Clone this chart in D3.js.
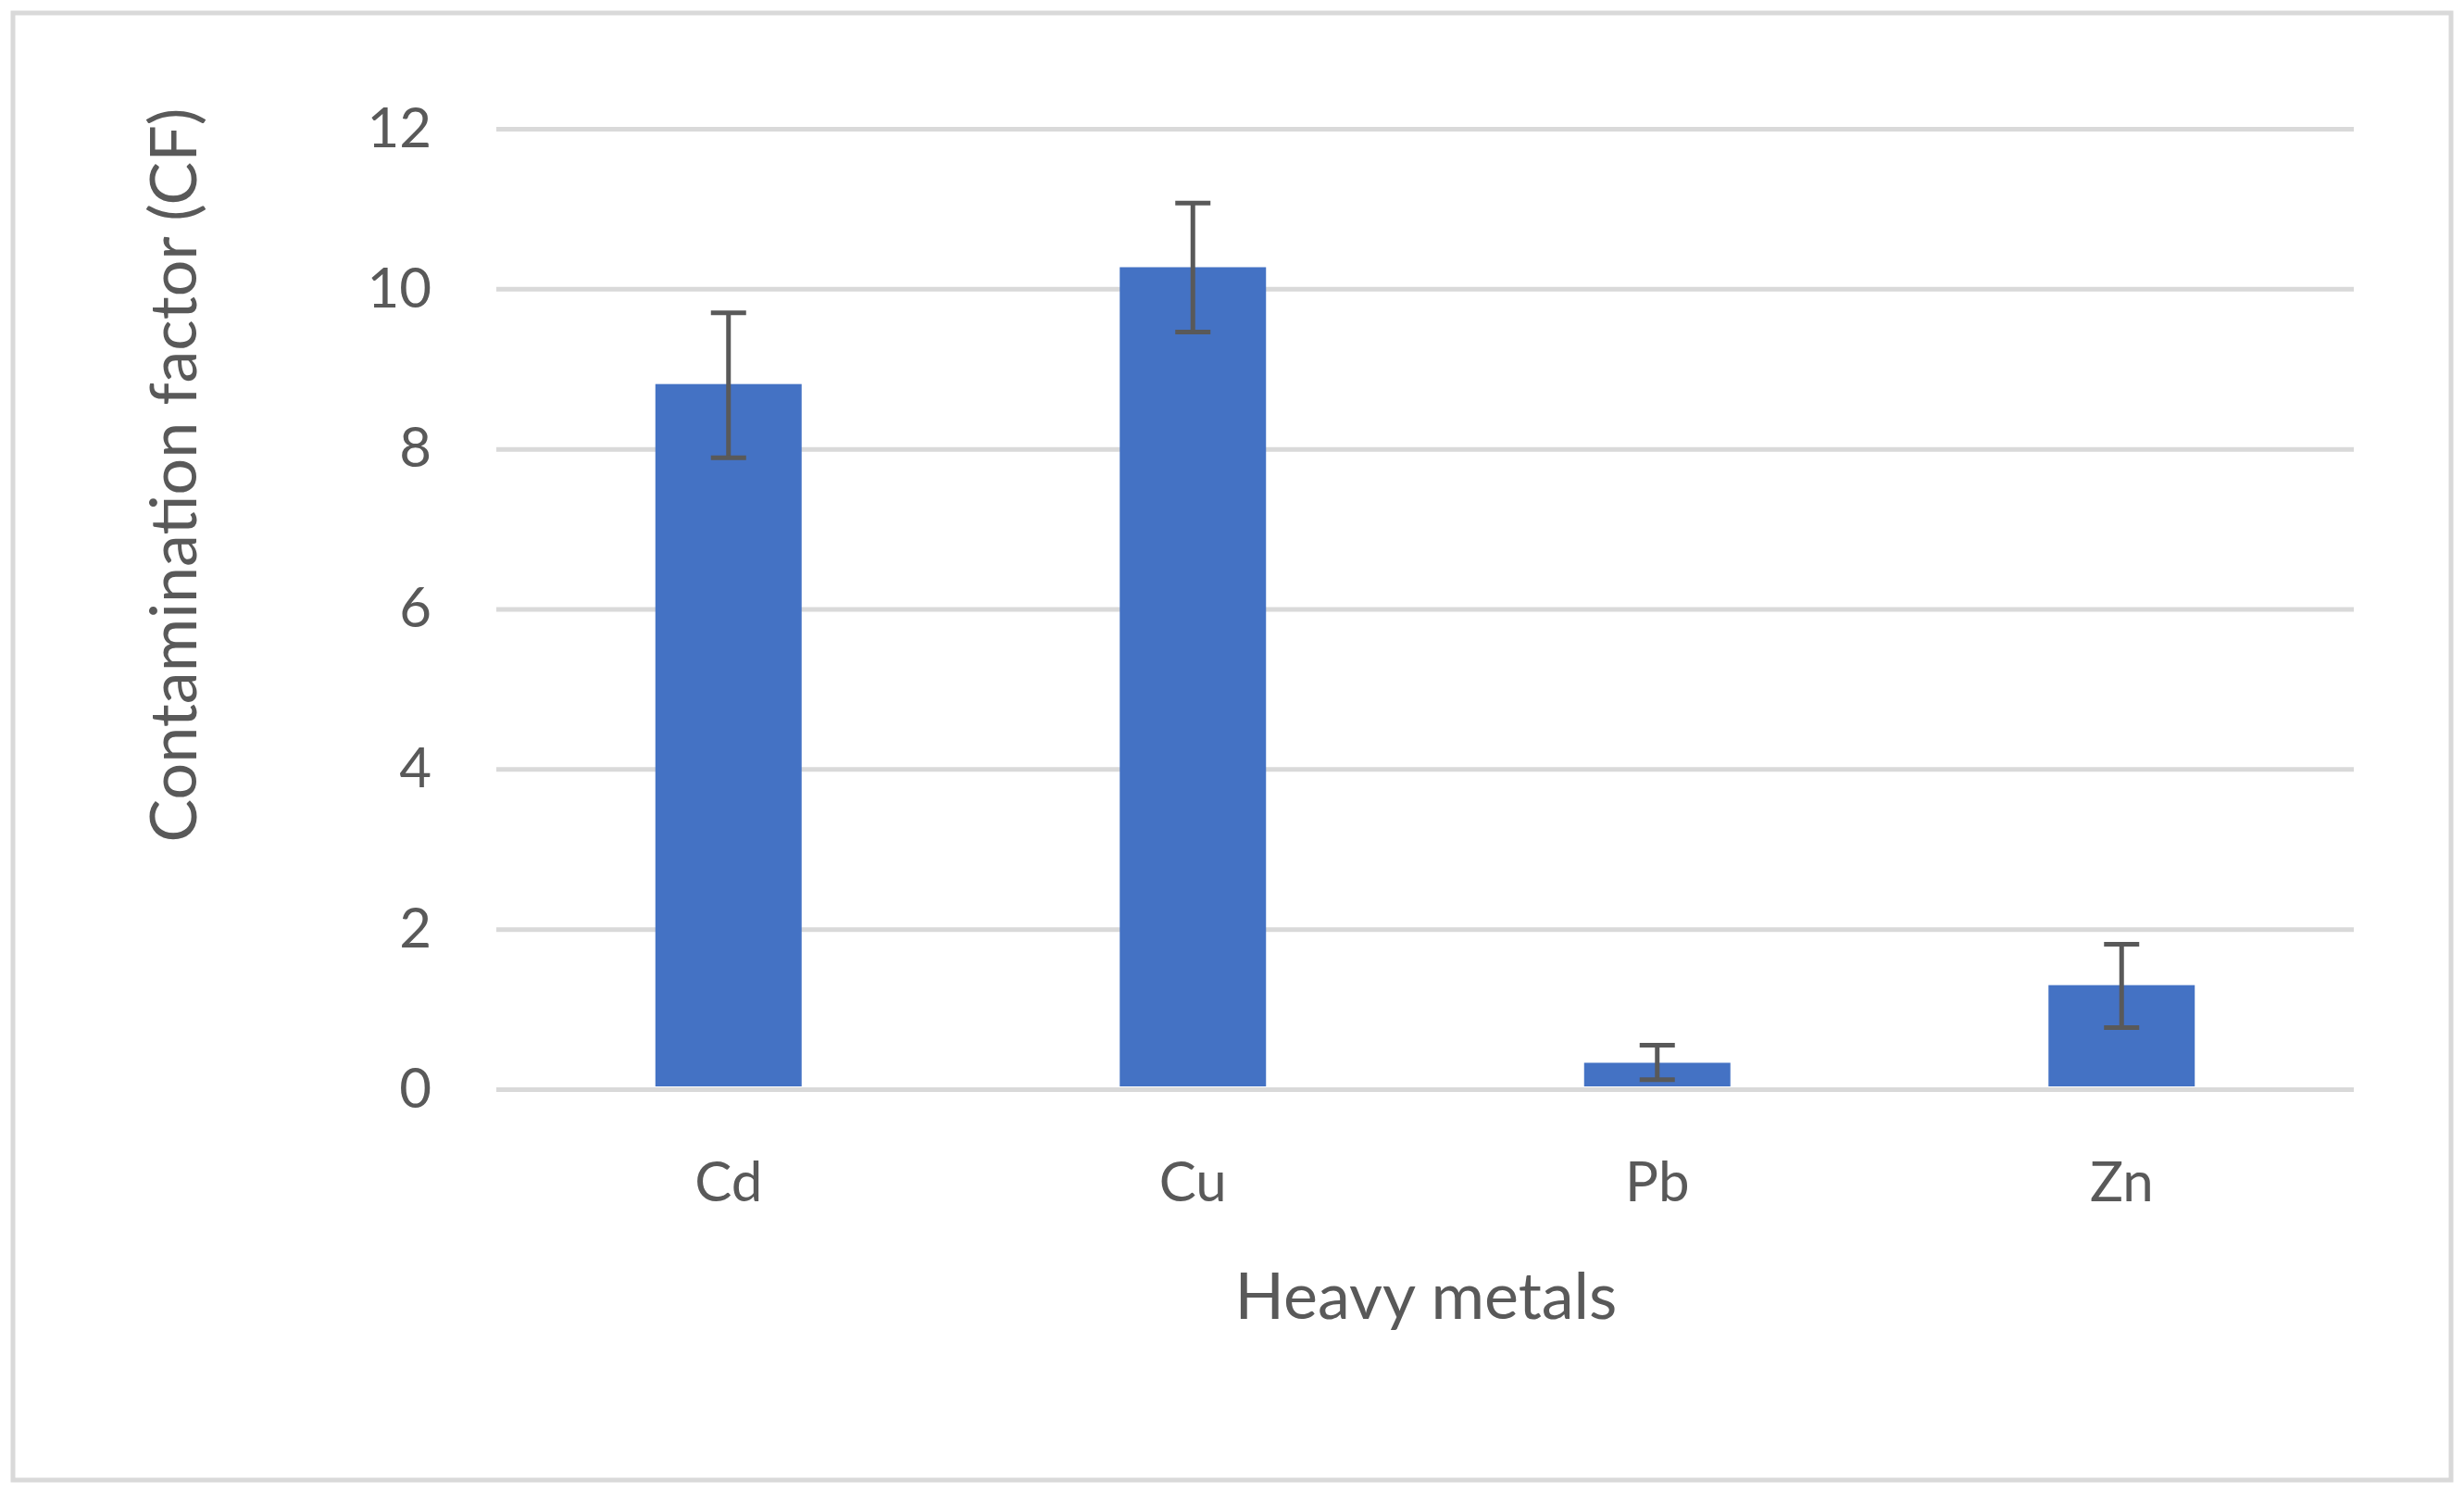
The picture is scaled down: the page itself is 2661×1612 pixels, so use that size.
<!DOCTYPE html>
<html><head><meta charset="utf-8">
<script src="https://cdn.jsdelivr.net/npm/d3@7"></script>
<style>body{margin:0;background:#fff}svg{display:block}</style>
</head><body>
<script>
const categories = ["Cd","Cu","Pb","Zn"];
const values = [8.81, 10.27, 0.33, 1.30];
const errLow = [7.89, 9.46, 0.12, 0.77];
const errHigh = [9.70, 11.07, 0.55, 1.81];
const yTicks = [0,2,4,6,8,10,12];

(function(){
const W=2661,H=1612;
const svg=d3.select("body").append("svg").attr("width",W).attr("height",H);
const font="Lato, 'Open Sans', sans-serif";
svg.append("rect").attr("x",14).attr("y",14).attr("width",W-28).attr("height",H-28)
  .attr("fill","#fff").attr("stroke","#d9d9d9").attr("stroke-width",5);

const pL=536,pR=2542,pT=139,pB=1176;
const x=d3.scaleBand().domain(categories).range([pL,pR]).paddingInner(0.685).paddingOuter(0.3425);
const y=d3.scaleLinear().domain([0,12]).range([pB,pT]);

const ya=svg.append("g").attr("transform",`translate(${pL},0)`)
  .call(d3.axisLeft(y).tickValues(yTicks).tickSize(-(pR-pL)).tickPadding(70));
ya.select(".domain").remove();
ya.selectAll(".tick line").attr("stroke","#d9d9d9").attr("stroke-width",5);
ya.selectAll(".tick text").attr("fill","#595959").style("font-family",font).style("font-size","60px");

svg.selectAll(".bar").data(categories).join("rect").attr("class","bar")
  .attr("x",d=>x(d)).attr("width",x.bandwidth())
  .attr("y",(d,i)=>y(values[i])).attr("height",(d,i)=>y(0)-y(values[i])-3)
  .attr("fill","#4472c4");

const eg=svg.append("g").attr("stroke","#595959").attr("stroke-width",5);
categories.forEach((c,i)=>{
  const cx=x(c)+x.bandwidth()/2;
  eg.append("line").attr("x1",cx).attr("x2",cx).attr("y1",y(errLow[i])).attr("y2",y(errHigh[i]));
  [errLow[i],errHigh[i]].forEach(v=>eg.append("line").attr("x1",cx-19).attr("x2",cx+19).attr("y1",y(v)).attr("y2",y(v)));
});

const xa=svg.append("g").attr("transform",`translate(0,${pB})`)
  .call(d3.axisBottom(x).tickSize(0).tickPadding(78));
xa.select(".domain").remove();
xa.selectAll(".tick text").attr("fill","#595959").style("font-family",font).style("font-size","60px");

svg.append("text").attr("x",1540).attr("y",1424).attr("text-anchor","middle")
  .attr("fill","#595959").style("font-family",font).style("font-size","70px").text("Heavy metals");
svg.append("text").attr("transform","translate(212,513) rotate(-90)").attr("text-anchor","middle")
  .attr("fill","#595959").style("font-family",font).style("font-size","70px").text("Contamination factor (CF)");
})();
</script>
</body></html>
